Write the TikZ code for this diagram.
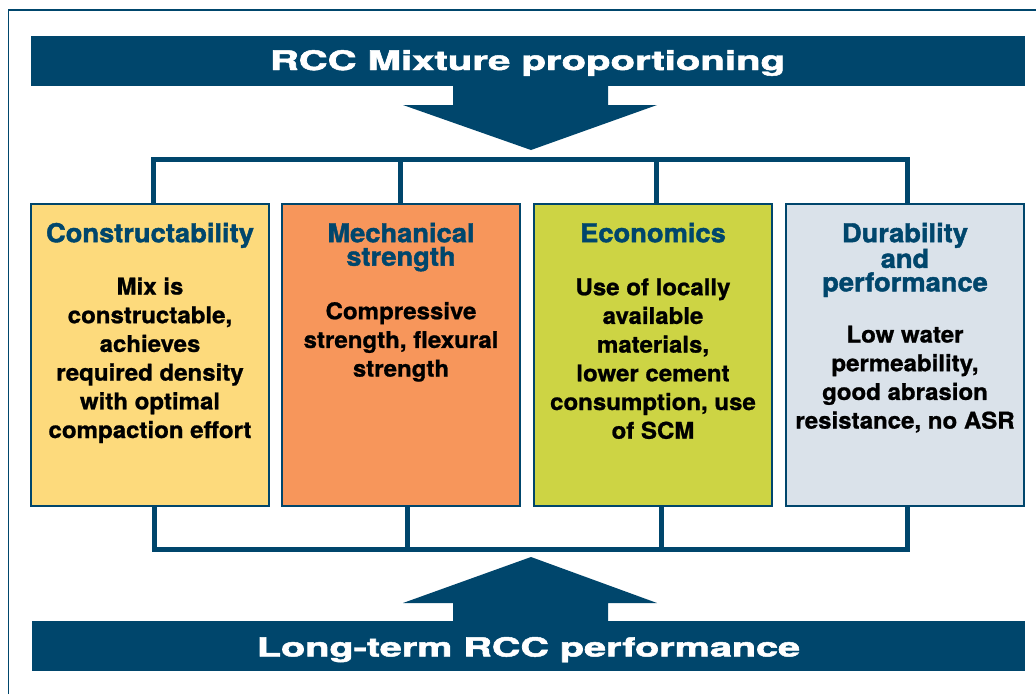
\documentclass[tikz,border=0pt]{standalone}
\usepackage{fontspec}
\setmainfont{TeX Gyre Heros}
\newfontfamily\titlefont{TeX Gyre Heros}[BoldFeatures={FakeBold=1.6,FakeStretch=1.05}]
\newfontfamily\bodyfont{TeX Gyre Heros}[BoldFeatures={FakeBold=1.0,FakeStretch=1.045}]
\newfontfamily\bannerfont{TeX Gyre Heros}[BoldFeatures={FakeBold=1.8}]
\usepackage{graphicx}
\definecolor{navy}{RGB}{0,70,108}
\definecolor{cyellow}{RGB}{253,218,124}
\definecolor{corange}{RGB}{247,150,91}
\definecolor{cgreen}{RGB}{205,212,68}
\definecolor{cgrey}{RGB}{218,226,234}
\begin{document}
\begin{tikzpicture}[x=1pt,y=-1pt,
  banner/.style={fill=navy, minimum height=50pt, inner sep=0pt},
  bannertext/.style={text=white, font=\bannerfont\bfseries, inner sep=0pt, anchor=base},
  box/.style={draw=navy, line width=2pt, minimum width=238pt, minimum height=302pt, inner sep=0pt},
  titletext/.style={text=navy, anchor=north, inner sep=0pt, align=center, font={\titlefont\fontsize{26}{23.5}\selectfont\bfseries}},
  bodytext/.style={text=black, anchor=north, inner sep=0pt, align=center, font={\bodyfont\fontsize{23}{28.7}\selectfont\bfseries}},
  conn/.style={draw=navy, line width=5pt, line join=miter},
  arrowfill/.style={fill=navy}
]
\useasboundingbox (0,0) rectangle (1036,694);
\fill[white] (0,0) rectangle (1036,694);
% frame
\draw[navy, line width=1.5pt] (8.5,694) -- (8.5,10) -- (1036,10);

% top banner and arrow
\node[banner, minimum width=994pt] (topb) at (528,61) {};
\node[bannertext] (toptxt) at (527.5,70) {\resizebox{515pt}{20pt}{RCC Mixture proportioning}};
\fill[arrowfill] (453,85) -- (453,105) -- (403,105) -- (531,150) -- (657,105) -- (608,105) -- (608,85) -- cycle;

% boxes
\node[box, fill=cyellow] (b1) at (150,355) {};
\node[box, fill=corange] (b2) at (401,355) {};
\node[box, fill=cgreen] (b3) at (653,355) {};
\node[box, fill=cgrey] (b4) at (905,355) {};

% titles
\node[titletext] (t1) at (150,222) {\rule{0pt}{20pt}Constructability};
\node[titletext] (t2) at (401,222) {\rule{0pt}{20pt}Mechanical\\strength};
\node[titletext] (t3) at (653,222) {\rule{0pt}{20pt}Economics};
\node[titletext] (t4) at (905,222) {\rule{0pt}{20pt}Durability\\and\\performance};

% bodies
\node[bodytext] (d1) at (150,274.3) {\rule{0pt}{20pt}Mix is\\constructable,\\achieves\\required density\\with optimal\\compaction effort};
\node[bodytext] (d2) at (401,299) {\rule{0pt}{20pt}Compressive\\strength, flexural\\strength};
\node[bodytext] (d3) at (653,275) {\rule{0pt}{20pt}Use of locally\\available\\materials,\\lower cement\\consumption, use\\of SCM};
\node[bodytext] (d4) at (905,322.3) {\rule{0pt}{20pt}Low water\\permeability,\\good abrasion\\resistance, no ASR};

% top connector
\coordinate (tl) at (153.5,159.5);
\coordinate (tr) at (907,159.5);
\draw[conn] ([xshift=3.5pt]b1.north) -- (tl) -- (tr) -- ([xshift=2pt]b4.north);
\draw[conn] ([xshift=-1pt]b2.north) -- ([xshift=-1pt]b2.north |- tl);
\draw[conn] ([xshift=3.5pt]b3.north) -- ([xshift=3.5pt]b3.north |- tl);

% bottom connector
\coordinate (bl) at (154.5,549.5);
\coordinate (br) at (907,549.5);
\draw[conn] ([xshift=4.5pt]b1.south) -- (bl) -- (br) -- ([xshift=2pt]b4.south);
\draw[conn] ([xshift=6pt]b2.south) -- ([xshift=6pt]b2.south |- bl);
\draw[conn] ([xshift=8pt]b3.south) -- ([xshift=8pt]b3.south |- bl);

% bottom arrow and banner
\fill[arrowfill] (531,557) -- (403,603) -- (453,603) -- (453,622) -- (608,622) -- (608,603) -- (657,603) -- cycle;
\node[banner, minimum width=993pt] (botb) at (528.5,646) {};
\node[bannertext] (bottxt) at (528.5,656.5) {\resizebox{543pt}{19.5pt}{Long-term RCC performance}};
\end{tikzpicture}
\end{document}
